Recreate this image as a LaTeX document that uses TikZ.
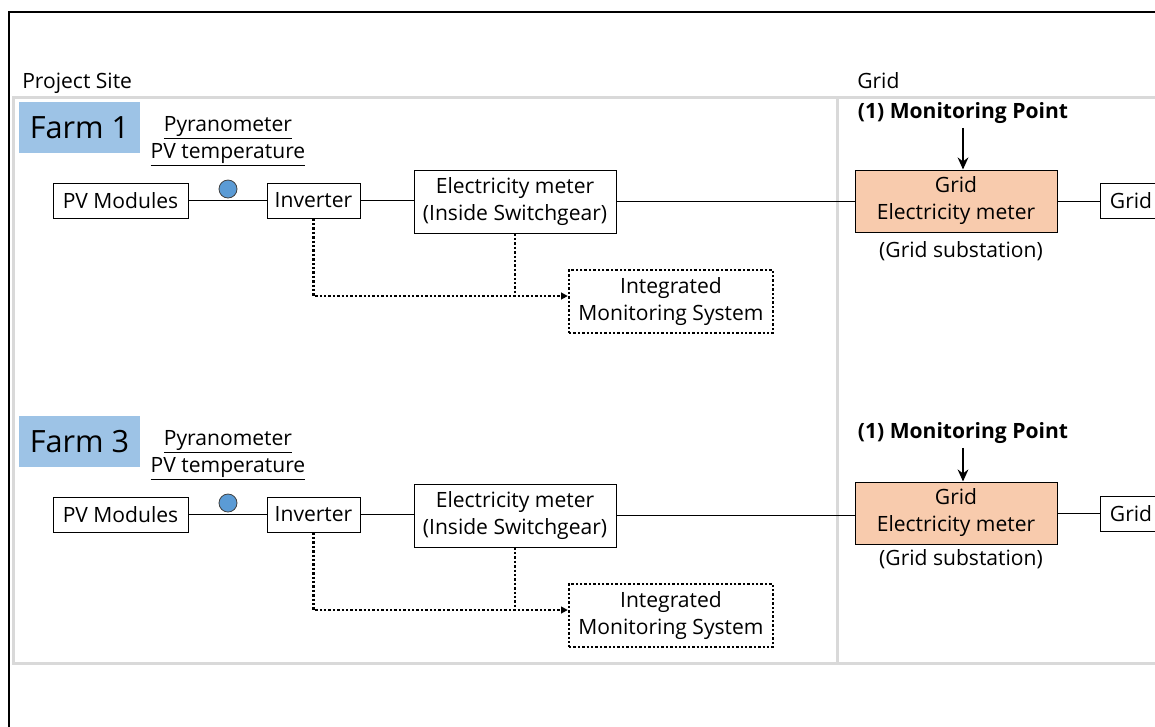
\documentclass[tikz,border=0pt]{standalone}
\usepackage{fontspec}
\setmainfont{Open Sans}
\usetikzlibrary{arrows.meta}
\definecolor{farmblue}{RGB}{157,195,230}
\definecolor{meterorange}{RGB}{248,203,173}
\definecolor{dotblue}{RGB}{91,155,213}
\definecolor{panelgray}{RGB}{217,217,217}
\newcommand\txtsize{\fontsize{15.8}{20.25}\selectfont}
\tikzset{
  mbox/.style    = {draw, line width=0.75pt, align=center, font=\txtsize,
                    inner sep=2pt, minimum height=26.25pt},
  mmeter/.style  = {mbox, minimum width=151.5pt, minimum height=47.25pt},
  mims/.style    = {mmeter, minimum width=153pt, dash pattern=on 1.8pt off 1.5pt,
                    line width=1.8pt},
  mgrid/.style   = {mmeter, fill=meterorange, minimum height=46.5pt},
  mfarm/.style   = {fill=farmblue, font=\fontsize{23}{26}\selectfont,
                    minimum width=90.75pt, minimum height=38.25pt},
  mtext/.style   = {font=\txtsize, align=center, inner sep=0pt},
  mbold/.style   = {mtext, font=\txtsize\bfseries},
  sensordot/.style = {circle, fill=dotblue, draw=black!75, line width=0.6pt,
                    minimum size=13.5pt, inner sep=0pt},
  link/.style    = {line width=0.75pt},
  dots/.style    = {line width=1.8pt, dash pattern=on 1.8pt off 1.5pt},
  dlink/.style   = {dots, -{Triangle[length=5pt,width=5pt]}},
  mparrow/.style = {line width=1.6pt, -{Stealth[length=9pt,width=8pt]}},
  panel/.style   = {draw=panelgray, line width=2.25pt},
}

\begin{document}
\begin{tikzpicture}[x=0.75pt, y=-0.75pt]
    \clip (0,0) rectangle (1155,726);
    \fill[white] (0,0) rectangle (1155,726);

    % frame and panel
    \draw[line width=1.5pt] (9,1000) -- (9,12) -- (1300,12);
    \draw[panel] (1300,97) -- (13,97) -- (13,663) -- (1300,663);
    \draw[panel] (837,97) -- (837,663);

    \node[mtext, anchor=base west] (site) at (22,88) {Project Site};
    \node[mtext, anchor=base west] (gridlbl) at (857,88) {Grid};

    % Farm 1
    \node[mfarm] (farm1) at (79.5,127.5) {Farm 1};
    \node[mtext] (sens1) at (228,141) {\underline{Pyranometer}\\\underline{PV temperature}};

    \node[mbox, minimum width=101.25pt] (pv1) at (120.5,200.5) {PV Modules};
    \node[mbox, minimum width=69.75pt] (inv1) at (313.5,200.5) {Inverter};
    \node[sensordot] (dot1) at (228,189) {};
    \node[mmeter] (em1) at (515,201.5) {Electricity meter\\(Inside Switchgear)};
    \node[mims] (ims1) at (671,301.5) {Integrated\\Monitoring System};
    \node[mgrid] (gm1) at (956,201) {Grid\\Electricity meter};
    \node[mtext] (sub1) at (961,251) {(Grid substation)};
    \node[mbold] (mp1) at (963,113) {(1) Monitoring Point};
    \node[mbox, minimum width=46.5pt] (grid1) at (1131,200.5) {Grid};
    \coordinate (j1) at (515,296);

    \draw[link] (pv1) -- (inv1);
    \draw[link] (inv1.east) -- (inv1.east -| em1.west);
    \draw[link] (em1.east) -- (em1.east -| gm1.west);
    \draw[link] (gm1.east) -- (gm1.east -| grid1.west);
    \draw[dlink] (inv1.south) |- (j1) -- (j1 -| ims1.west);
    \draw[dots] (em1.south) -- (j1);
    \draw[mparrow] ([yshift=-3pt]mp1.south) -- (mp1.south |- gm1.north);

    % Farm 3
    \node[mfarm] (farm3) at (79.5,441.5) {Farm 3};
    \node[mtext] (sens3) at (228,455) {\underline{Pyranometer}\\\underline{PV temperature}};

    \node[mbox, minimum width=101.25pt] (pv3) at (120.5,514.5) {PV Modules};
    \node[mbox, minimum width=69.75pt] (inv3) at (313.5,514.5) {Inverter};
    \node[sensordot] (dot3) at (228,503) {};
    \node[mmeter] (em3) at (515,515.5) {Electricity meter\\(Inside Switchgear)};
    \node[mims] (ims3) at (671,615.5) {Integrated\\Monitoring System};
    \node[mgrid] (gm3) at (956,513) {Grid\\Electricity meter};
    \node[mtext] (sub3) at (961,559) {(Grid substation)};
    \node[mbold] (mp3) at (963,433) {(1) Monitoring Point};
    \node[mbox, minimum width=46.5pt] (grid3) at (1131,513.5) {Grid};
    \coordinate (j3) at (515,610);

    \draw[link] (pv3) -- (inv3);
    \draw[link] (inv3.east) -- (inv3.east -| em3.west);
    \draw[link] (em3.east) -- (em3.east -| gm3.west);
    \draw[link] (gm3.east) -- (gm3.east -| grid3.west);
    \draw[dlink] (inv3.south) |- (j3) -- (j3 -| ims3.west);
    \draw[dots] (em3.south) -- (j3);
    \draw[mparrow] ([yshift=-3pt]mp3.south) -- (mp3.south |- gm3.north);
\end{tikzpicture}
\end{document}
